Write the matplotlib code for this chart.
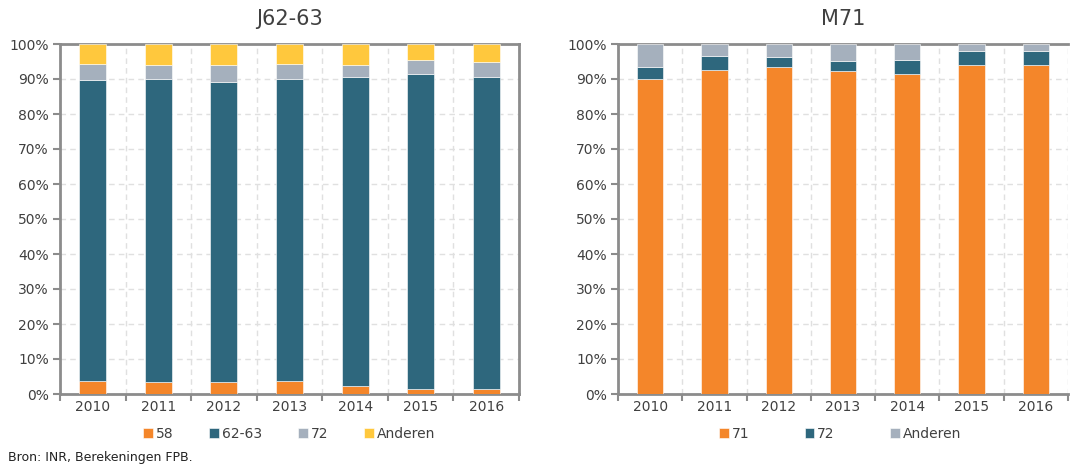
import matplotlib
matplotlib.use("Agg")
import matplotlib.pyplot as plt
import numpy as np
from matplotlib.ticker import FixedLocator, PercentFormatter

years = ["2010", "2011", "2012", "2013", "2014", "2015", "2016"]

# J62-63 panel (percent shares)
j_58 = [3.8, 3.5, 3.4, 3.7, 2.2, 1.3, 1.3]
j_6263 = [85.9, 86.6, 85.8, 86.4, 88.4, 90.2, 89.3]
j_72 = [4.6, 4.0, 4.9, 4.1, 3.5, 3.9, 4.3]
j_and = [5.7, 5.9, 5.9, 5.8, 5.9, 4.6, 5.1]

# M71 panel
m_71 = [89.9, 92.7, 93.3, 92.3, 91.5, 94.0, 94.1]
m_72 = [3.6, 4.0, 3.1, 2.9, 3.9, 4.0, 3.8]
m_and = [6.5, 3.3, 3.6, 4.8, 4.6, 2.0, 2.1]

C_OR = "#F4862A"
C_TEAL = "#2E677D"
C_GREY = "#A5B0BD"
C_YEL = "#FFC83D"
SPINE = "#8C8C8C"
TXT = "#404040"

plt.rcParams['font.family'] = ['DejaVu Sans']

fig = plt.figure(figsize=(10.70, 4.68), dpi=100)
W, H = 1070, 468

def make_ax(left, right, top, bottom):
    return fig.add_axes([left / W, 1 - bottom / H, (right - left) / W, (bottom - top) / H])

ax1 = make_ax(60, 519, 44, 394)
ax2 = make_ax(618, 1068, 44, 394)

def style(ax, title, show_right=True):
    n = len(years)
    x = np.arange(n)
    ax.set_xlim(-0.5, n - 0.5)
    ax.set_ylim(0, 100)
    ax.yaxis.set_major_locator(FixedLocator(np.arange(0, 101, 10)))
    ax.yaxis.set_major_formatter(PercentFormatter(decimals=0))
    ax.set_xticks(x)
    ax.set_xticklabels(years)
    ax.xaxis.set_minor_locator(FixedLocator(np.arange(-0.5, n, 1.0)))
    ax.tick_params(axis='x', which='major', length=0, labelsize=10, colors=TXT, pad=4)
    ax.tick_params(axis='x', which='minor', length=5, width=1.5, color=SPINE, direction='out')
    ax.tick_params(axis='y', which='major', length=5, width=1.5, color=SPINE, labelsize=10, labelcolor=TXT, pad=3)
    for s in ax.spines.values():
        s.set_color(SPINE)
        s.set_linewidth(2)
    if not show_right:
        ax.spines['right'].set_visible(False)
    ax.grid(axis='y', which='major', linestyle=(0, (4, 3)), color="#E0E0E0", linewidth=1)
    ax.grid(axis='x', which='minor', linestyle=(0, (4, 3)), color="#E0E0E0", linewidth=1)
    ax.set_axisbelow(True)
    ax.set_title(title, fontsize=15, color=TXT, pad=14)

def stack(ax, series, colors, labels):
    x = np.arange(len(years))
    bottom = np.zeros(len(years))
    for vals, c, lab in zip(series, colors, labels):
        ax.bar(x, vals, width=0.41, bottom=bottom, color=c, label=lab,
               edgecolor="white", linewidth=0.4, zorder=3)
        bottom = bottom + np.array(vals)

stack(ax1, [j_58, j_6263, j_72, j_and], [C_OR, C_TEAL, C_GREY, C_YEL], ["58", "62-63", "72", "Anderen"])
stack(ax2, [m_71, m_72, m_and], [C_OR, C_TEAL, C_GREY], ["71", "72", "Anderen"])
style(ax1, "J62-63")
style(ax2, "M71", show_right=False)

for ax, cx, cs in ((ax1, 289, 2.6), (ax2, 840, 4.0)):
    fig.legend(*ax.get_legend_handles_labels(), loc='center', bbox_to_anchor=(cx / W, 1 - 434 / H),
               ncol=4, frameon=False, fontsize=10, handlelength=0.7, handleheight=0.7,
               handletextpad=0.2, columnspacing=cs, labelcolor=TXT)

fig.text(8 / W, 1 - 458 / H, "Bron: INR, Berekeningen FPB.", fontsize=9, color="#222222", va='center', ha='left')

fig.savefig("out.png", dpi=100)
